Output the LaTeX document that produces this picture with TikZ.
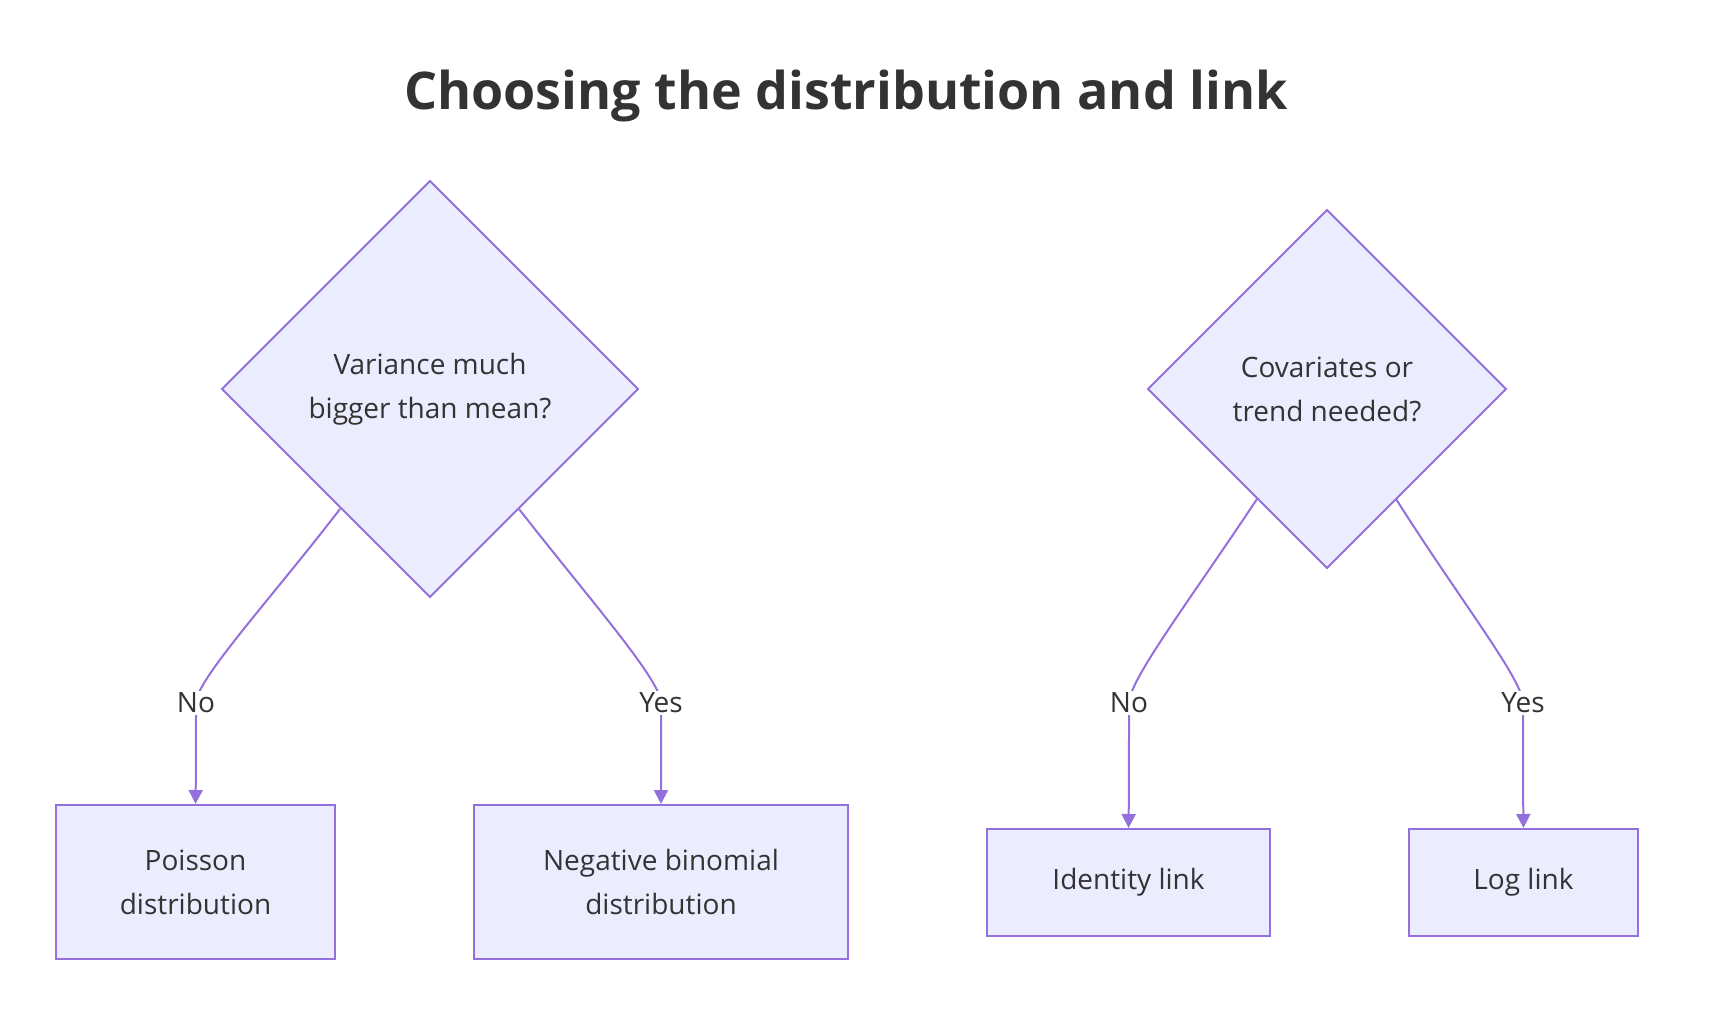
\documentclass[tikz,border=0pt]{standalone}
\usepackage{fontspec}
\setmainfont{Open Sans}
\usetikzlibrary{arrows.meta}
\definecolor{fillc}{HTML}{ECECFF}
\definecolor{strokec}{HTML}{9370DB}
\definecolor{txt}{HTML}{333333}
\begin{document}
\begin{tikzpicture}[x=0.5pt,y=-0.5pt,
  box/.style={draw=strokec,fill=fillc,line width=1pt,text=txt,font=\fontsize{14}{22}\selectfont,align=center,inner sep=0pt},
  lbl/.style={fill=white,text=txt,font=\fontsize{14}{17}\selectfont,inner sep=1pt},
  edge/.style={draw=strokec,line width=1pt,-{Triangle[length=7pt,width=7pt]}}]
\useasboundingbox (0,0) rectangle (1710,1026);
\node[text=txt,font=\fontsize{26}{30}\selectfont\bfseries] (title) at (846,96) {Choosing the distribution and link};
\draw[draw=strokec,fill=fillc,line width=1pt] (430,181) -- (638,389) -- (430,597) -- (222,389) -- cycle;
\node[text=txt,font=\fontsize{14}{22}\selectfont,align=center] (d1) at (430,389) {Variance much\\bigger than mean?};
\draw[draw=strokec,fill=fillc,line width=1pt] (1327,210) -- (1506,389) -- (1327,568) -- (1148,389) -- cycle;
\node[text=txt,font=\fontsize{14}{22}\selectfont,align=center] (d2) at (1327,389) {Covariates or\\trend needed?};
\node[box,minimum width=279pt/2,minimum height=154pt/2] (p) at (195.5,882) {Poisson\\distribution};
\node[box,minimum width=374pt/2,minimum height=154pt/2] (nb) at (661,882) {Negative binomial\\distribution};
\node[box,minimum width=283pt/2,minimum height=107pt/2] (id) at (1128.5,882.5) {Identity link};
\node[box,minimum width=229pt/2,minimum height=107pt/2] (lg) at (1523.5,882.5) {Log link};
\coordinate (s1) at (340,509);
\coordinate (s2) at (519,509);
\coordinate (s3) at (1257,499);
\coordinate (s4) at (1396,499);
\draw[edge] (s1) .. controls (270,600) and (196,680) .. (196,703) .. controls (196,730) and (196,770) .. (p.north);
\draw[edge] (s2) .. controls (590,600) and (661,680) .. (661,703) .. controls (661,730) and (661,770) .. (nb.north);
\draw[edge] (s3) .. controls (1190,600) and (1129,680) .. (1129,703) .. controls (1129,740) and (1129,790) .. (id.north);
\draw[edge] (s4) .. controls (1460,600) and (1523,680) .. (1523,703) .. controls (1523,740) and (1523,790) .. (lg.north);
\node[lbl] (l1) at (196,703) {No};
\node[lbl] (l2) at (661,703) {Yes};
\node[lbl] (l3) at (1129,703) {No};
\node[lbl] (l4) at (1523,703) {Yes};
\end{tikzpicture}
\end{document}
